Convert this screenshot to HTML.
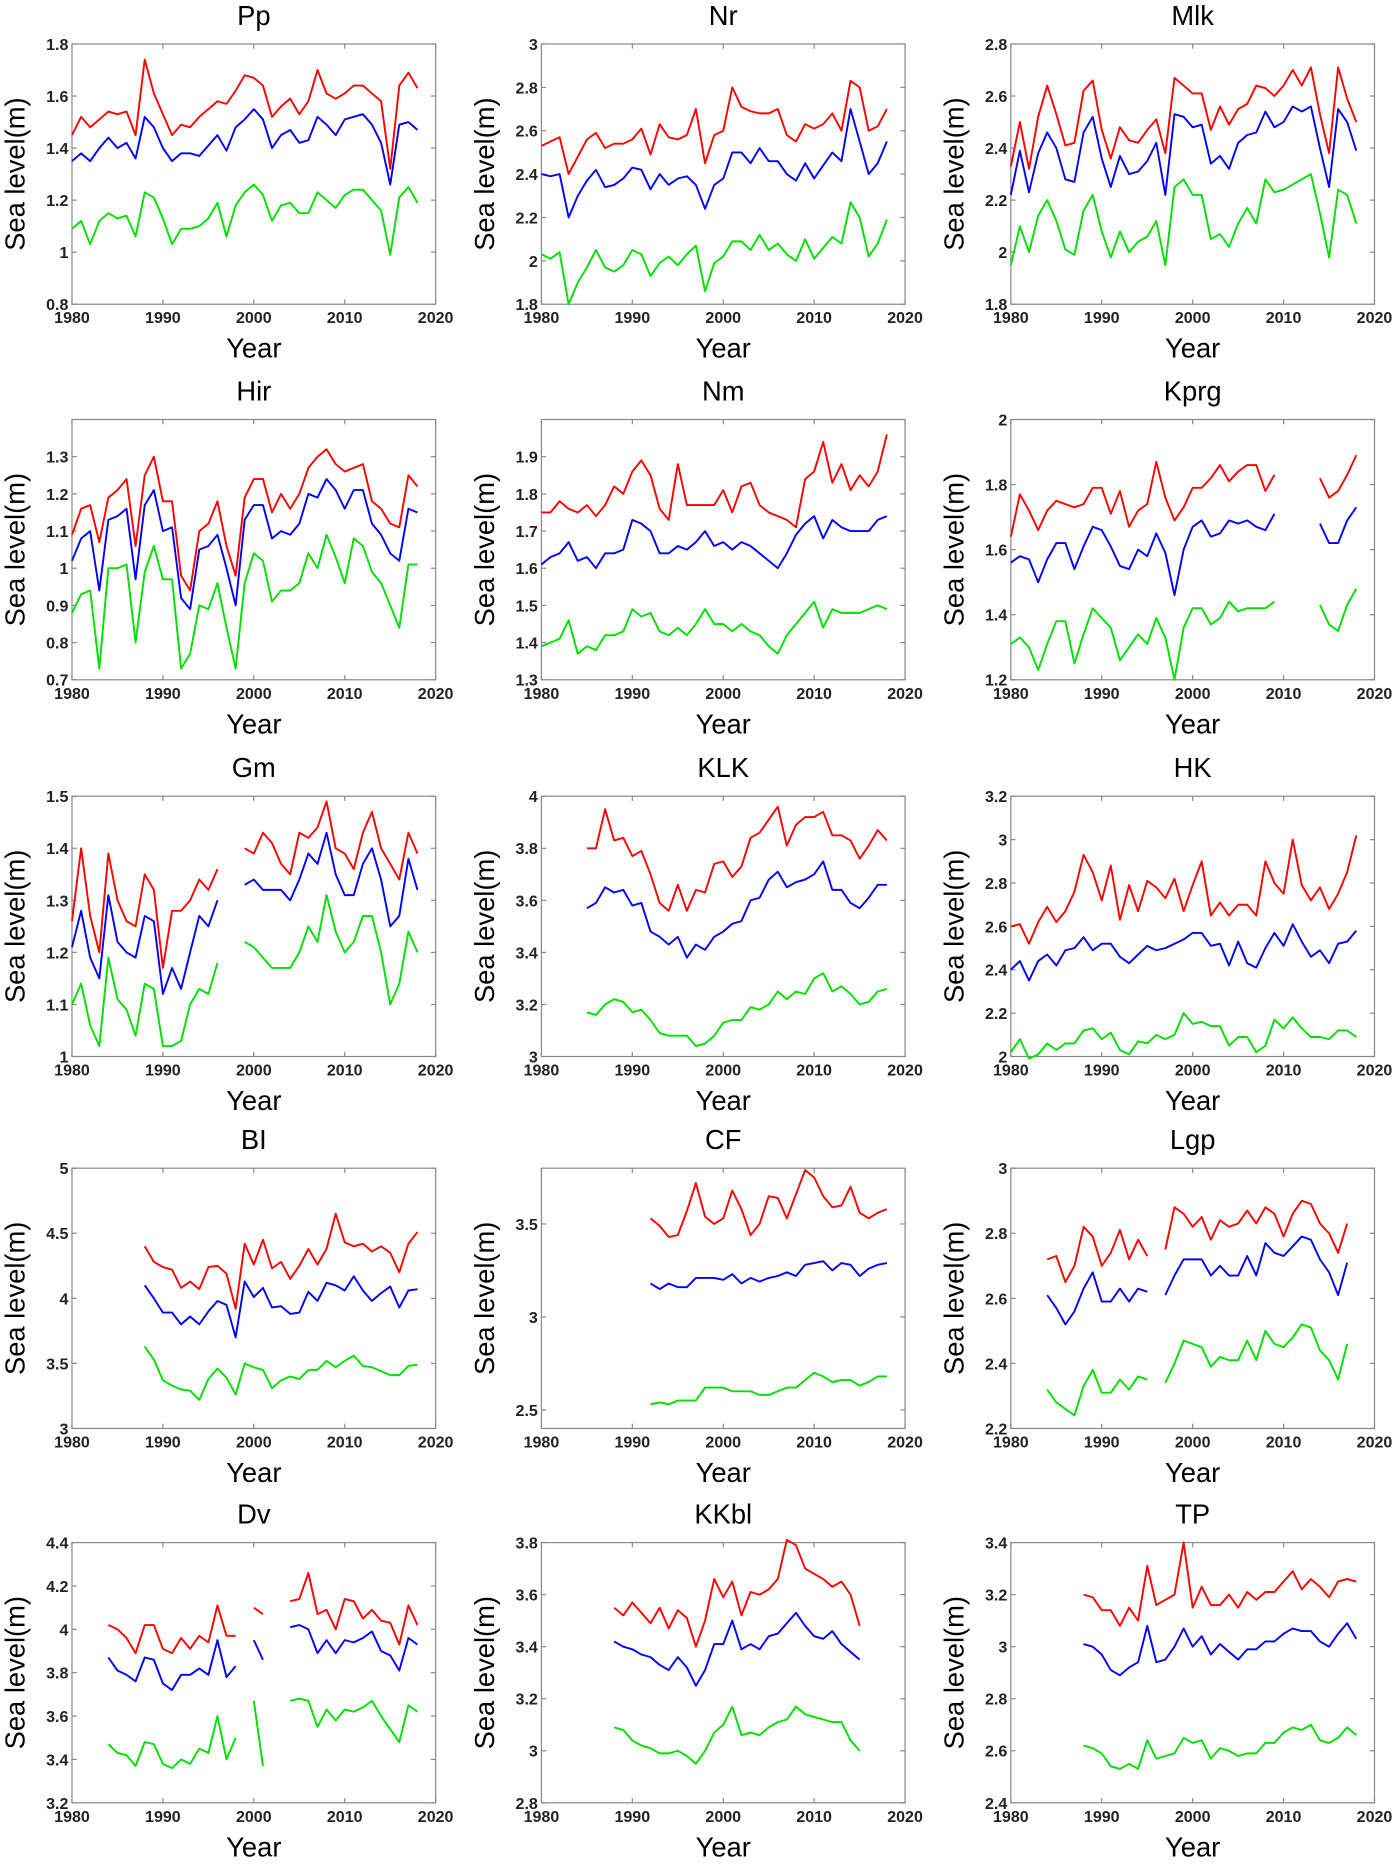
<!DOCTYPE html>
<html><head><meta charset="utf-8"><style>
html,body{margin:0;padding:0;background:#fff;}
svg{display:block;}
text{font-family:"Liberation Sans",Arial,sans-serif;}
</style></head><body>
<svg id="fig" width="1393" height="1867" viewBox="0 0 1172 1571" xmlns="http://www.w3.org/2000/svg"></svg>
<script>
const years = [1980,1990,2000,2010,2020];
const N=null;
const ppRed=[1.45,1.52,1.48,1.51,1.54,1.53,1.54,1.45,1.74,1.61,1.53,1.45,1.49,1.48,1.52,1.55,1.58,1.57,1.62,1.68,1.67,1.64,1.52,1.56,1.59,1.53,1.58,1.70,1.61,1.59,1.61,1.64,1.64,1.61,1.58,1.32,1.64,1.69,1.63];
const ppBlue=[1.35,1.38,1.35,1.40,1.44,1.40,1.42,1.36,1.52,1.48,1.40,1.35,1.38,1.38,1.37,1.41,1.45,1.39,1.48,1.51,1.55,1.51,1.40,1.45,1.47,1.42,1.43,1.52,1.49,1.45,1.51,1.52,1.53,1.49,1.42,1.26,1.49,1.50,1.47];
const ppGreen=[1.09,1.12,1.03,1.12,1.15,1.13,1.14,1.06,1.23,1.21,1.13,1.03,1.09,1.09,1.10,1.13,1.19,1.06,1.18,1.23,1.26,1.22,1.12,1.18,1.19,1.15,1.15,1.23,1.20,1.17,1.22,1.24,1.24,1.20,1.16,0.99,1.21,1.25,1.19];
const nrRed=[2.53,2.55,2.57,2.40,2.48,2.56,2.59,2.52,2.54,2.54,2.56,2.61,2.49,2.63,2.57,2.56,2.58,2.70,2.45,2.58,2.60,2.80,2.71,2.69,2.68,2.68,2.70,2.58,2.55,2.63,2.61,2.63,2.68,2.60,2.83,2.80,2.60,2.62,2.70];
const nrBlue=[2.40,2.39,2.40,2.20,2.30,2.37,2.42,2.34,2.35,2.38,2.43,2.42,2.33,2.40,2.35,2.38,2.39,2.35,2.24,2.35,2.38,2.50,2.50,2.45,2.52,2.46,2.46,2.40,2.37,2.45,2.38,2.44,2.50,2.46,2.70,2.55,2.40,2.45,2.55];
const nrGreen=[2.03,2.01,2.04,1.80,1.90,1.97,2.05,1.97,1.95,1.98,2.05,2.03,1.93,1.99,2.02,1.98,2.03,2.07,1.86,1.99,2.02,2.09,2.09,2.05,2.12,2.05,2.08,2.03,2.00,2.10,2.01,2.06,2.11,2.08,2.27,2.20,2.02,2.08,2.19];
const mlkRed=[2.33,2.50,2.32,2.52,2.64,2.53,2.41,2.42,2.62,2.66,2.47,2.36,2.48,2.43,2.42,2.47,2.51,2.38,2.67,2.64,2.61,2.61,2.47,2.56,2.49,2.55,2.57,2.64,2.63,2.60,2.64,2.70,2.64,2.71,2.53,2.38,2.71,2.59,2.50];
const mlkBlue=[2.22,2.39,2.23,2.38,2.46,2.40,2.28,2.27,2.46,2.52,2.36,2.25,2.37,2.30,2.31,2.35,2.42,2.22,2.53,2.52,2.48,2.49,2.34,2.37,2.32,2.42,2.45,2.46,2.54,2.48,2.50,2.56,2.54,2.56,2.40,2.25,2.55,2.50,2.39];
const mlkGreen=[1.95,2.10,2.00,2.14,2.20,2.12,2.01,1.99,2.16,2.22,2.08,1.98,2.08,2.00,2.04,2.06,2.12,1.95,2.25,2.28,2.22,2.22,2.05,2.07,2.02,2.11,2.17,2.11,2.28,2.23,2.24,2.26,2.28,2.30,2.15,1.98,2.24,2.22,2.11];
const hirRed=[1.09,1.16,1.17,1.07,1.19,1.21,1.24,1.06,1.25,1.30,1.18,1.18,0.98,0.94,1.10,1.12,1.18,1.06,0.98,1.19,1.24,1.24,1.15,1.20,1.16,1.20,1.27,1.30,1.32,1.28,1.26,1.27,1.28,1.18,1.16,1.12,1.11,1.25,1.22];
const hirBlue=[1.02,1.08,1.10,0.94,1.13,1.14,1.16,0.97,1.17,1.21,1.10,1.11,0.92,0.89,1.05,1.06,1.09,1.00,0.90,1.13,1.17,1.17,1.08,1.10,1.09,1.12,1.20,1.19,1.24,1.21,1.16,1.21,1.21,1.12,1.09,1.04,1.02,1.16,1.15];
const hirGreen=[0.88,0.93,0.94,0.73,1.00,1.00,1.01,0.80,0.99,1.06,0.97,0.97,0.73,0.77,0.90,0.89,0.96,0.84,0.73,0.96,1.04,1.02,0.91,0.94,0.94,0.96,1.04,1.00,1.09,1.03,0.96,1.08,1.06,0.99,0.96,0.90,0.84,1.01,1.01];
const nmRed=[1.75,1.75,1.78,1.76,1.75,1.77,1.74,1.77,1.82,1.80,1.86,1.89,1.85,1.76,1.73,1.88,1.77,1.77,1.77,1.77,1.81,1.75,1.82,1.83,1.77,1.75,1.74,1.73,1.71,1.84,1.86,1.94,1.83,1.88,1.81,1.85,1.82,1.86,1.96];
const nmBlue=[1.61,1.63,1.64,1.67,1.62,1.63,1.60,1.64,1.64,1.65,1.73,1.72,1.70,1.64,1.64,1.66,1.65,1.67,1.70,1.66,1.67,1.65,1.67,1.66,1.64,1.62,1.60,1.64,1.69,1.72,1.74,1.68,1.73,1.71,1.70,1.70,1.70,1.73,1.74];
const nmGreen=[1.39,1.40,1.41,1.46,1.37,1.39,1.38,1.42,1.42,1.43,1.49,1.47,1.48,1.43,1.42,1.44,1.42,1.45,1.49,1.45,1.45,1.43,1.45,1.43,1.42,1.39,1.37,1.42,1.45,1.48,1.51,1.44,1.49,1.48,1.48,1.48,1.49,1.50,1.49];
const kprgRed=[1.64,1.77,1.72,1.66,1.72,1.75,1.74,1.73,1.74,1.79,1.79,1.71,1.78,1.67,1.72,1.74,1.87,1.76,1.69,1.73,1.79,1.79,1.82,1.86,1.81,1.84,1.86,1.86,1.78,1.83,N,N,N,N,1.82,1.76,1.78,1.83,1.89];
const kprgBlue=[1.56,1.58,1.57,1.50,1.57,1.62,1.62,1.54,1.61,1.67,1.66,1.61,1.55,1.54,1.60,1.58,1.65,1.59,1.46,1.60,1.67,1.69,1.64,1.65,1.69,1.68,1.69,1.67,1.66,1.71,N,N,N,N,1.68,1.62,1.62,1.69,1.73];
const kprgGreen=[1.31,1.33,1.30,1.23,1.31,1.38,1.38,1.25,1.34,1.42,1.39,1.36,1.26,1.30,1.34,1.31,1.39,1.33,1.20,1.36,1.42,1.42,1.37,1.39,1.44,1.41,1.42,1.42,1.42,1.44,N,N,N,N,1.43,1.37,1.35,1.43,1.48];
const gmRed=[1.26,1.40,1.27,1.20,1.39,1.30,1.26,1.25,1.35,1.32,1.17,1.28,1.28,1.30,1.34,1.32,1.36,N,N,1.40,1.39,1.43,1.41,1.37,1.35,1.43,1.42,1.44,1.49,1.40,1.39,1.36,1.43,1.47,1.40,1.37,1.34,1.43,1.39];
const gmBlue=[1.21,1.28,1.19,1.15,1.31,1.22,1.20,1.19,1.27,1.26,1.12,1.17,1.13,1.20,1.27,1.25,1.30,N,N,1.33,1.34,1.32,1.32,1.32,1.30,1.34,1.39,1.37,1.43,1.35,1.31,1.31,1.37,1.40,1.34,1.25,1.27,1.38,1.32];
const gmGreen=[1.10,1.14,1.06,1.02,1.19,1.11,1.09,1.04,1.14,1.13,1.02,1.02,1.03,1.10,1.13,1.12,1.18,N,N,1.22,1.21,1.19,1.17,1.17,1.17,1.20,1.25,1.22,1.31,1.24,1.20,1.22,1.27,1.27,1.20,1.10,1.14,1.24,1.20];
const klkRed=[3.80,3.80,3.95,3.83,3.84,3.77,3.79,3.70,3.59,3.56,3.66,3.56,3.64,3.63,3.74,3.75,3.69,3.73,3.84,3.86,3.91,3.96,3.81,3.89,3.92,3.92,3.94,3.85,3.85,3.83,3.76,3.81,3.87,3.83];
const klkBlue=[3.57,3.59,3.65,3.63,3.64,3.58,3.59,3.48,3.46,3.43,3.46,3.38,3.43,3.41,3.46,3.48,3.51,3.52,3.60,3.61,3.68,3.71,3.65,3.67,3.68,3.70,3.75,3.64,3.64,3.59,3.57,3.61,3.66,3.66];
const klkGreen=[3.17,3.16,3.20,3.22,3.21,3.17,3.18,3.14,3.09,3.08,3.08,3.08,3.04,3.05,3.08,3.13,3.14,3.14,3.19,3.18,3.20,3.25,3.22,3.25,3.24,3.30,3.32,3.25,3.27,3.24,3.20,3.21,3.25,3.26];
const hkRed=[2.60,2.61,2.52,2.62,2.69,2.62,2.67,2.76,2.93,2.85,2.72,2.88,2.63,2.79,2.67,2.81,2.78,2.73,2.82,2.67,2.79,2.90,2.65,2.71,2.65,2.70,2.70,2.65,2.90,2.80,2.75,3.00,2.79,2.72,2.78,2.68,2.75,2.85,3.02];
const hkBlue=[2.40,2.44,2.35,2.44,2.47,2.42,2.49,2.50,2.55,2.49,2.52,2.52,2.46,2.43,2.47,2.51,2.49,2.50,2.52,2.54,2.57,2.57,2.51,2.52,2.42,2.53,2.43,2.41,2.50,2.57,2.51,2.61,2.53,2.46,2.49,2.43,2.52,2.53,2.58];
const hkGreen=[2.02,2.08,1.99,2.01,2.06,2.03,2.06,2.06,2.12,2.13,2.08,2.11,2.03,2.01,2.07,2.06,2.10,2.08,2.10,2.20,2.15,2.16,2.14,2.14,2.05,2.09,2.09,2.02,2.05,2.17,2.13,2.18,2.13,2.09,2.09,2.08,2.12,2.12,2.09];
const biRed=[4.40,4.28,4.24,4.22,4.08,4.13,4.07,4.24,4.25,4.19,3.92,4.42,4.26,4.45,4.23,4.28,4.15,4.25,4.38,4.26,4.38,4.65,4.43,4.40,4.42,4.36,4.40,4.35,4.20,4.42,4.51];
const biBlue=[4.10,4.00,3.89,3.89,3.80,3.86,3.80,3.90,3.98,3.95,3.70,4.13,4.01,4.08,3.93,3.94,3.88,3.89,4.05,3.98,4.12,4.10,4.06,4.17,4.06,3.98,4.04,4.09,3.93,4.06,4.07];
const biGreen=[3.63,3.53,3.37,3.33,3.30,3.29,3.22,3.38,3.46,3.39,3.26,3.50,3.47,3.45,3.31,3.37,3.40,3.38,3.45,3.45,3.52,3.47,3.52,3.56,3.48,3.47,3.44,3.41,3.41,3.48,3.49];
const cfRed=[3.53,3.49,3.43,3.44,3.57,3.72,3.54,3.50,3.53,3.68,3.58,3.44,3.50,3.65,3.64,3.53,3.66,3.79,3.75,3.65,3.59,3.60,3.70,3.56,3.53,3.56,3.58];
const cfBlue=[3.18,3.15,3.18,3.16,3.16,3.21,3.21,3.21,3.20,3.23,3.18,3.21,3.19,3.21,3.22,3.24,3.22,3.28,3.29,3.30,3.25,3.29,3.28,3.22,3.26,3.28,3.29];
const cfGreen=[2.53,2.54,2.53,2.55,2.55,2.55,2.62,2.62,2.62,2.60,2.60,2.60,2.58,2.58,2.60,2.62,2.62,2.66,2.70,2.68,2.65,2.66,2.66,2.63,2.65,2.68,2.68];
const lgpRed=[2.72,2.73,2.65,2.70,2.82,2.79,2.70,2.74,2.81,2.72,2.78,2.73,N,2.75,2.88,2.86,2.82,2.85,2.78,2.84,2.82,2.83,2.87,2.83,2.88,2.86,2.79,2.86,2.90,2.89,2.83,2.80,2.74,2.83];
const lgpBlue=[2.61,2.57,2.52,2.56,2.63,2.68,2.59,2.59,2.63,2.59,2.63,2.62,N,2.61,2.67,2.72,2.72,2.72,2.67,2.70,2.67,2.67,2.73,2.67,2.77,2.74,2.73,2.76,2.79,2.78,2.72,2.68,2.61,2.71];
const lgpGreen=[2.32,2.28,2.26,2.24,2.33,2.38,2.31,2.31,2.35,2.32,2.36,2.35,N,2.34,2.40,2.47,2.46,2.45,2.39,2.42,2.41,2.41,2.47,2.41,2.50,2.46,2.45,2.48,2.52,2.51,2.44,2.41,2.35,2.46];
const dvRed=[4.02,4.00,3.96,3.89,4.02,4.02,3.91,3.89,3.96,3.91,3.97,3.94,4.11,3.97,3.97,N,4.10,4.07,N,N,4.13,4.14,4.26,4.07,4.09,4.00,4.14,4.13,4.05,4.09,4.04,4.03,3.93,4.11,4.02];
const dvBlue=[3.87,3.81,3.79,3.76,3.87,3.86,3.75,3.72,3.79,3.79,3.82,3.79,3.95,3.78,3.83,N,3.95,3.86,N,N,4.01,4.02,4.00,3.89,3.95,3.89,3.95,3.94,3.96,3.99,3.90,3.88,3.81,3.96,3.93];
const dvGreen=[3.47,3.43,3.42,3.37,3.48,3.47,3.38,3.36,3.40,3.38,3.45,3.43,3.60,3.40,3.50,N,3.67,3.37,N,N,3.67,3.68,3.67,3.55,3.63,3.58,3.63,3.62,3.64,3.67,3.60,3.54,3.48,3.65,3.62];
const kkRed=[3.55,3.52,3.57,3.53,3.49,3.55,3.47,3.54,3.51,3.40,3.50,3.66,3.59,3.65,3.52,3.61,3.60,3.62,3.66,3.81,3.79,3.70,3.68,3.66,3.63,3.65,3.60,3.48];
const kkBlue=[3.42,3.40,3.39,3.37,3.36,3.33,3.31,3.36,3.32,3.25,3.31,3.41,3.41,3.50,3.39,3.41,3.39,3.44,3.45,3.49,3.53,3.48,3.44,3.43,3.46,3.41,3.38,3.35];
const kkGreen=[3.09,3.08,3.04,3.02,3.01,2.99,2.99,3.00,2.98,2.95,3.00,3.07,3.10,3.17,3.06,3.07,3.06,3.09,3.11,3.12,3.17,3.14,3.13,3.12,3.11,3.11,3.04,3.00];
const tpRed=[3.20,3.19,3.14,3.14,3.08,3.15,3.10,3.31,3.16,3.18,3.20,3.40,3.15,3.23,3.16,3.16,3.20,3.15,3.21,3.18,3.21,3.21,3.25,3.29,3.22,3.26,3.23,3.19,3.25,3.26,3.25];
const tpBlue=[3.01,3.00,2.97,2.91,2.89,2.92,2.94,3.08,2.94,2.95,3.00,3.07,3.00,3.04,2.97,3.01,2.98,2.95,2.99,2.99,3.02,3.02,3.05,3.07,3.06,3.06,3.02,3.00,3.05,3.09,3.03];
const tpGreen=[2.62,2.61,2.59,2.54,2.53,2.55,2.53,2.64,2.57,2.58,2.59,2.65,2.63,2.64,2.57,2.61,2.60,2.58,2.59,2.59,2.63,2.63,2.67,2.69,2.68,2.70,2.64,2.63,2.65,2.69,2.66];

const panels=[
 {t:'Pp',s:1980,r:[0.8,1.8],k:['0.8','1','1.2','1.4','1.6','1.8'],d:[ppRed,ppBlue,ppGreen]},
 {t:'Nr',s:1980,r:[1.8,3],k:['1.8','2','2.2','2.4','2.6','2.8','3'],d:[nrRed,nrBlue,nrGreen]},
 {t:'Mlk',s:1980,r:[1.8,2.8],k:['1.8','2','2.2','2.4','2.6','2.8'],d:[mlkRed,mlkBlue,mlkGreen]},
 {t:'Hir',s:1980,r:[0.7,1.4],k:['0.7','0.8','0.9','1','1.1','1.2','1.3'],d:[hirRed,hirBlue,hirGreen]},
 {t:'Nm',s:1980,r:[1.3,2.0],k:['1.3','1.4','1.5','1.6','1.7','1.8','1.9'],d:[nmRed,nmBlue,nmGreen]},
 {t:'Kprg',s:1980,r:[1.2,2.0],k:['1.2','1.4','1.6','1.8','2'],d:[kprgRed,kprgBlue,kprgGreen]},
 {t:'Gm',s:1980,r:[1,1.5],k:['1','1.1','1.2','1.3','1.4','1.5'],d:[gmRed,gmBlue,gmGreen]},
 {t:'KLK',s:1985,r:[3,4],k:['3','3.2','3.4','3.6','3.8','4'],d:[klkRed,klkBlue,klkGreen]},
 {t:'HK',s:1980,r:[2,3.2],k:['2','2.2','2.4','2.6','2.8','3','3.2'],d:[hkRed,hkBlue,hkGreen]},
 {t:'BI',s:1988,r:[3,5],k:['3','3.5','4','4.5','5'],d:[biRed,biBlue,biGreen]},
 {t:'CF',s:1992,r:[2.4,3.8],k:['2.5','3','3.5'],d:[cfRed,cfBlue,cfGreen]},
 {t:'Lgp',s:1984,r:[2.2,3.0],k:['2.2','2.4','2.6','2.8','3'],d:[lgpRed,lgpBlue,lgpGreen]},
 {t:'Dv',s:1984,r:[3.2,4.4],k:['3.2','3.4','3.6','3.8','4','4.2','4.4'],d:[dvRed,dvBlue,dvGreen]},
 {t:'KKbl',s:1988,r:[2.8,3.8],k:['2.8','3','3.2','3.4','3.6','3.8'],d:[kkRed,kkBlue,kkGreen]},
 {t:'TP',s:1988,r:[2.4,3.4],k:['2.4','2.6','2.8','3','3.2','3.4'],d:[tpRed,tpBlue,tpGreen]}
];
const colors=['#ff0000','#0000ff','#00e000'];
const NS='http://www.w3.org/2000/svg';
const fig=document.getElementById('fig');
function mk(tag,attrs,parent){const e=document.createElementNS(NS,tag);for(const a in attrs)e.setAttribute(a,attrs[a]);parent.appendChild(e);return e;}
const colX=[60.5,455.5,850.5], rowY=[37,353,670,983,1298], W=306, H=219;
panels.forEach((p,i)=>{
  const x0=colX[i%3], y0=rowY[Math.floor(i/3)];
  const g=mk('g',{},fig);
  
  
  const xs=v=>x0+(v-1980)/40*W;
  const ys=v=>y0+H-(v-p.r[0])/(p.r[1]-p.r[0])*H;
  const box=mk('rect',{x:x0,y:y0,width:W,height:H,fill:'none',stroke:'#888','stroke-width':1},g);
  
  
  const t=mk('text',{x:x0+W/2,y:y0-16,'text-anchor':'middle','font-size':23},g);t.textContent=p.t;
  
  
  years.forEach(yr=>{
    const x=xs(yr);
    mk('line',{x1:x,x2:x,y1:y0+H,y2:y0+H-4,stroke:'#888'},g);
    mk('line',{x1:x,x2:x,y1:y0,y2:y0+4,stroke:'#888'},g);
    const l=mk('text',{x:x,y:y0+H+16,'text-anchor':'middle','font-size':13.5,'font-weight':'bold',fill:'#222'},g);l.textContent=yr;
    
    
  });
  p.k.forEach(kv=>{
    const y=ys(parseFloat(kv));
    mk('line',{x1:x0,x2:x0+4,y1:y,y2:y,stroke:'#888'},g);
    mk('line',{x1:x0+W,x2:x0+W-4,y1:y,y2:y,stroke:'#888'},g);
    const l=mk('text',{x:x0-3,y:y+5,'text-anchor':'end','font-size':13.5,'font-weight':'bold',fill:'#222'},g);l.textContent=kv;
    
    
  });
  const xl=mk('text',{x:x0+W/2,y:y0+H+45,'text-anchor':'middle','font-size':23},g);xl.textContent='Year';
  
  
  const yl=mk('text',{x:0,y:0,'text-anchor':'middle','font-size':23,transform:`translate(${x0-40},${y0+H/2}) rotate(-90)`},g);yl.textContent='Sea level(m)';
  
  
  p.d.forEach((arr,si)=>{
    let segs=[],cur=[];
    arr.forEach((v,j)=>{ if(v===null){if(cur.length)segs.push(cur);cur=[];} else cur.push([xs(p.s+j),ys(v)]); });
    if(cur.length)segs.push(cur);
    segs.forEach(sg=>{
      const pl=mk('polyline',{points:sg.map(q=>q[0].toFixed(1)+','+q[1].toFixed(1)).join(' '),fill:'none',stroke:colors[si],'stroke-width':1.6,'stroke-linejoin':'round'},g);
      
      
    });
  });
});
</script>
</body></html>
